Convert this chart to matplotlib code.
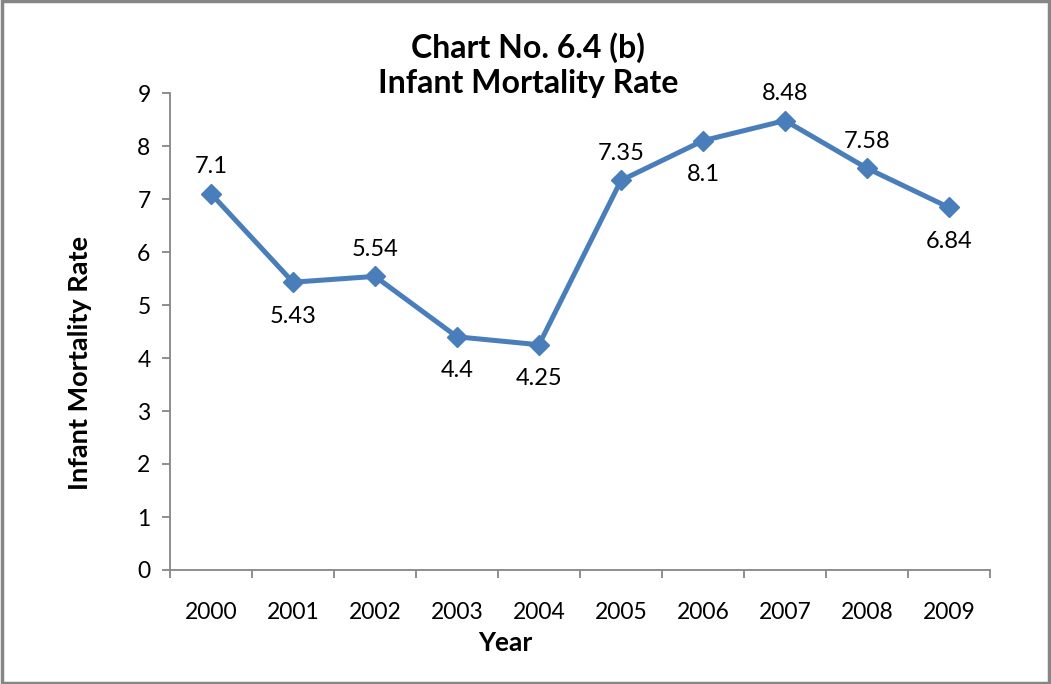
import matplotlib
matplotlib.use("Agg")
import matplotlib.pyplot as plt
from matplotlib.patches import Rectangle

years = ["2000", "2001", "2002", "2003", "2004", "2005", "2006", "2007", "2008", "2009"]
imr = [7.1, 5.43, 5.54, 4.4, 4.25, 7.35, 8.1, 8.48, 7.58, 6.84]
label_pos = ["above", "below", "above", "below", "below", "above", "below", "above", "above", "below"]

plt.rcParams['font.family'] = ['Lato', 'DejaVu Sans']

fig = plt.figure(figsize=(10.51, 6.84), dpi=100)
ax = fig.add_axes([170/1051, (684-570)/684, (990-170)/1051, (570-93)/684])

color = "#4A7EBB"
x = list(range(len(years)))
ax.plot(x, imr, color=color, lw=3.6, marker="D", markersize=10.5, zorder=3)

for xi, v, p in zip(x, imr, label_pos):
    if p == "above":
        ax.annotate(f"{v:g}", (xi, v), xytext=(0, 12), textcoords="offset points",
                    ha="center", va="bottom", fontsize=17)
    else:
        ax.annotate(f"{v:g}", (xi, v), xytext=(0, -17), textcoords="offset points",
                    ha="center", va="top", fontsize=17)

ax.set_xlim(-0.5, len(years) - 0.5)
ax.set_ylim(0, 9)
ax.set_yticks(range(0, 10))
ax.set_xticks(x)
ax.set_xticklabels(years)
ax.set_xticks([i - 0.5 for i in range(len(years) + 1)], minor=True)
ax.tick_params(axis="x", which="major", length=0, pad=23, labelsize=16.5)
ax.tick_params(axis="x", which="minor", length=6, color="#868686", width=1.3)
ax.tick_params(axis="y", length=6, color="#868686", width=1.3, labelsize=16.5, pad=8)

for s in ["top", "right"]:
    ax.spines[s].set_visible(False)
for s in ["left", "bottom"]:
    ax.spines[s].set_color("#868686")
    ax.spines[s].set_linewidth(1.3)

ax.set_xlabel("Year", fontsize=19, fontweight="bold")
ax.xaxis.set_label_coords((505 - 170) / 820, -(643 - 570) / 477)
ax.xaxis.label.set_va("center")
ax.set_ylabel("Infant Mortality Rate", fontsize=19.5, fontweight="bold")
ax.yaxis.set_label_coords((80 - 170) / 820, (570 - 363) / 477)
ax.yaxis.label.set_va("center")
fig.text(528/1051, 1 - 65/684, "Chart No. 6.4 (b)\nInfant Mortality Rate", ha="center", va="center",
         fontsize=23, fontweight="bold", linespacing=1.25)

fig.patches.append(Rectangle((0.002, 0.002), 0.996, 0.996, transform=fig.transFigure,
                             fill=False, edgecolor="#868686", lw=2.5))

fig.savefig("out.png", dpi=100)
